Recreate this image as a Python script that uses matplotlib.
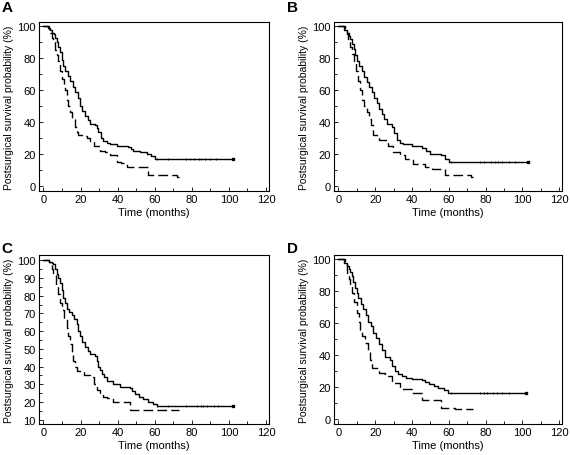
import numpy as np
import matplotlib.pyplot as plt
from matplotlib.ticker import MultipleLocator

plt.rcParams['font.family'] = ['Liberation Sans', 'DejaVu Sans']

# ---- Panel A ----
a_solid_t = [0, 2.5, 3.5, 4.5, 5.5, 6.5, 7.2, 8, 9, 9.9, 10.8, 11.7, 13, 14.4, 15.7, 17, 18.4, 19.8,
             21, 22.5, 23.8, 25, 27.8, 28.8, 29.6, 31, 32.3, 34, 36, 39.5, 45.8, 47, 48.5, 52, 55.7,
             58, 60, 102]
a_solid_s = [100, 99, 98, 96, 95, 93, 90, 87, 84, 79, 75, 72, 69, 66, 62, 59, 55, 50,
             47, 44, 41, 39, 38, 36, 33.5, 30, 28, 27, 26, 25, 24.5, 23, 22, 21, 20,
             18.5, 16.5, 16.5]
a_dash_t = [0, 3, 3.6, 4.5, 5.4, 6.5, 7.2, 8, 9, 10, 11, 11.7, 12.6, 13.5, 14.4, 15.5, 17, 18, 18.9,
            21, 23.4, 25, 27, 30.5, 33, 36, 39.5, 42, 45, 56.5, 72, 73]
a_dash_s = [100, 98, 96, 93, 90, 85, 82, 78, 72, 67, 63, 60, 54, 50, 46, 42, 37, 34, 32,
            31, 30, 28, 25, 22, 21, 19, 15, 14, 12, 6.5, 5.5, 5.5]
a_cens = [61, 67, 77, 79, 81, 84, 85, 87, 90, 93]

# ---- Panel B ----
b_solid_t = [0, 3, 4.5, 5.5, 6.3, 7.2, 8.2, 9, 10, 11.3, 12.7, 14, 15.4, 16.7, 18, 19.4, 20.8, 22.2,
             23.6, 25, 26.3, 29, 30.3, 31.7, 33.5, 35.3, 39.9, 45.3, 47.5, 49.8, 56, 58, 60, 103]
b_solid_s = [100, 98, 96, 94, 92, 89, 86, 82, 78, 75, 72, 68, 65, 62, 59, 55, 52, 48,
             45, 42, 39, 37, 33, 29, 27, 26, 25, 23.4, 21.5, 20, 19, 17, 15, 15]
b_dash_t = [0, 3.5, 4.5, 5.4, 6.5, 7.3, 8.2, 9.5, 10.9, 11.8, 12.7, 14, 15.4, 16.5, 17.8, 19, 21.8,
            25.4, 27.2, 29.9, 33.5, 36.3, 40.8, 47, 50.8, 58, 72, 73]
b_dash_s = [100, 98, 95, 91, 87, 83, 78, 72, 66, 60, 54, 50, 46, 42, 38, 32, 29,
            29, 25, 21, 19, 17, 13.6, 11.5, 10.5, 6.5, 5.5, 5.5]
b_cens = [61, 77, 79, 83, 85, 87, 89, 93, 96]

# ---- Panel C ----
c_solid_t = [0, 3, 4.5, 5.4, 6.3, 7.2, 8.1, 9, 9.9, 10.8, 11.7, 12.6, 13.8, 15.3, 16.6, 18, 18.9,
             19.8, 21, 22.5, 23.8, 25, 27.8, 28.7, 29.6, 30.5, 31.4, 32.7, 34, 37.7, 41.3, 46.7,
             48, 49.4, 51.5, 53.9, 56.5, 59, 61, 102]
c_solid_s = [100, 99, 98.5, 98, 95, 92.5, 90, 87, 83, 79, 76, 72.7, 71, 69, 67, 64, 60,
             57, 54, 51, 49, 47, 46, 43, 40, 38, 36, 34, 32, 30, 28.5, 27.7,
             26, 24.3, 23, 21.5, 20, 18.8, 17.7, 17.7]
c_dash_t = [0, 3, 3.6, 4.5, 5.4, 6.7, 8, 9, 9.9, 11.2, 12.6, 13.5, 14.4, 15.3, 16.2, 17.1, 18,
            21.6, 25, 27, 28.8, 30.5, 32, 34, 37.7, 45.8, 46.7, 73]
c_dash_s = [100, 99, 98, 95, 92, 86, 81, 76, 72, 67, 62, 57, 53, 48, 43, 40, 37.6,
            35, 34, 30, 27, 24.7, 23, 22, 20, 20, 15.5, 15.5]
c_cens = [61, 67, 77, 83, 85, 86, 88, 92, 94]

# ---- Panel D ----
d_solid_t = [0, 3, 4.5, 5.5, 6.3, 7.2, 8.1, 9, 9.9, 10.9, 12.2, 13.6, 15, 16.3, 17.6, 19, 20.4,
             21.8, 23.6, 25.4, 28, 29.4, 30.8, 32.5, 34.4, 37, 39.9, 45.3, 47, 49, 52, 54.4,
             57.5, 59.8, 102]
d_solid_s = [100, 98, 96, 94, 92, 89.5, 86, 82, 79, 76, 72, 68.6, 65, 61, 58, 54, 51,
             47, 43, 39, 37, 33, 30, 28, 27, 25.5, 24.7, 24.3, 23, 21.5, 20.5, 19.5,
             18, 16.3, 16.3]
d_dash_t = [0, 3.5, 4.5, 5.5, 6.3, 7.2, 8.5, 10, 11, 11.8, 13, 14.5, 16, 17.2, 18, 21.8, 25.4,
            29, 33.5, 39.9, 45.3, 52.6, 56, 63.4, 72, 73]
d_dash_s = [100, 97, 91.6, 88, 83, 79, 73, 66.5, 61, 56, 52, 47.7, 42, 37, 32, 29, 27,
            22.6, 18.4, 16.3, 12, 12, 7, 6.3, 6, 6]
d_cens = [61, 77, 79, 81, 84, 86, 89, 93]

panels = [
    ('A', a_solid_t, a_solid_s, a_dash_t, a_dash_s, a_cens),
    ('B', b_solid_t, b_solid_s, b_dash_t, b_dash_s, b_cens),
    ('C', c_solid_t, c_solid_s, c_dash_t, c_dash_s, c_cens),
    ('D', d_solid_t, d_solid_s, d_dash_t, d_dash_s, d_cens),
]

# axes boxes in figure fractions (left, bottom, width, height)
boxes = {
    'A': [0.0684, 0.579, 0.4035, 0.3706],
    'B': [0.586, 0.579, 0.400, 0.3706],
    'C': [0.0684, 0.068, 0.4035, 0.3706],
    'D': [0.586, 0.068, 0.400, 0.3706],
}
letter_pos = {'A': (0.003, 0.997), 'B': (0.503, 0.997), 'C': (0.003, 0.47), 'D': (0.503, 0.47)}


def step_value(times, vals, t):
    i = np.searchsorted(times, t, side='right') - 1
    return np.asarray(vals)[i]


fig = plt.figure(figsize=(5.7, 4.56), dpi=100)

for name, st, ss, dt, ds, cens in panels:
    ax = fig.add_axes(boxes[name])
    ax.plot(st, ss, color='black', lw=1.0, drawstyle='steps-post')
    ax.plot(dt, ds, color='black', lw=1.0, drawstyle='steps-post', dashes=(7, 3))
    ax.plot(cens, step_value(st, ss, cens), ls='none', marker='|', color='black',
            markersize=2, mew=0.6)
    ax.plot(st[-1], ss[-1], ls='none', marker='s', color='black', markersize=2)

    ax.set_xlim(-2.4, 121.6)
    ax.xaxis.set_major_locator(MultipleLocator(20))
    ax.xaxis.set_minor_locator(MultipleLocator(10))
    if name == 'C':
        ax.set_ylim(7.6, 103)
        ax.yaxis.set_major_locator(MultipleLocator(10))
        ax.yaxis.set_minor_locator(MultipleLocator(5))
    else:
        ax.set_ylim(-3.3, 102.8)
        ax.yaxis.set_major_locator(MultipleLocator(20))
        ax.yaxis.set_minor_locator(MultipleLocator(10))

    ax.tick_params(which='both', direction='in', labelsize=8, width=0.6, pad=2.5)
    ax.tick_params(which='major', length=3)
    ax.tick_params(which='minor', length=2)
    for sp in ax.spines.values():
        sp.set_linewidth(0.8)

    ax.set_xlabel('Time (months)', fontsize=8, labelpad=2)
    ax.set_ylabel('Postsurgical survival probability (%)', fontsize=7.5, labelpad=2)

    lx, ly = letter_pos[name]
    fig.text(lx, ly, name, fontsize=11, fontweight='bold', ha='left', va='top')

fig.savefig('out.png', dpi=100)
